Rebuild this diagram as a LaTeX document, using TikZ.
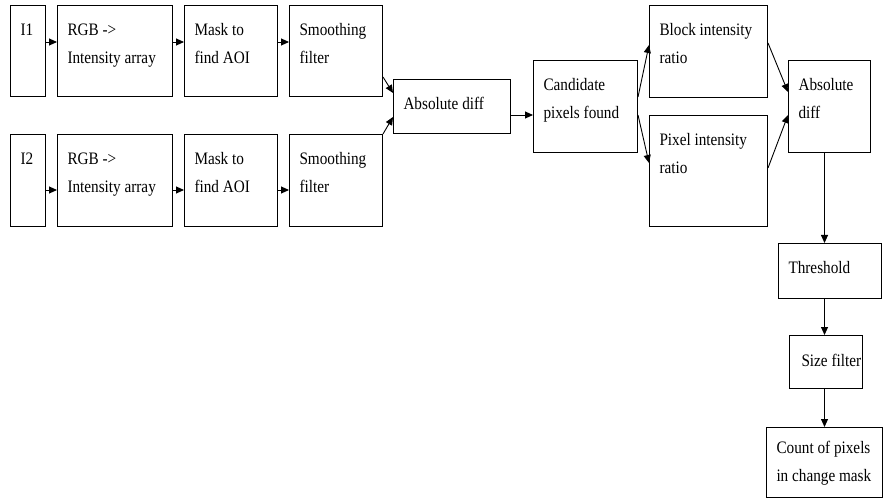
\documentclass[tikz,border=0pt]{standalone}
\usepackage{fontspec}
\setmainfont{Liberation Serif}[FakeStretch=0.87]
\usetikzlibrary{arrows.meta}
\newcommand\bx[7][30]{%
  \node[box] (#2) at (#3,#4) {\vbox to \dimexpr#6pt-#4pt\relax{%
    \hsize=\dimexpr#5pt-#3pt\relax \parindent=0pt \leftskip=10pt
    \rightskip=0pt plus 1fil \parfillskip=0pt plus 1fil
    \baselineskip=28pt \prevdepth=0pt \vskip\dimexpr#1pt-28pt\relax
    #7\par\vfil}};}
\begin{document}
\begin{tikzpicture}[x=1pt,y=-1pt,
  box/.style={draw, line width=1pt, inner sep=0pt, anchor=north west,
    font=\fontsize{17.5}{28}\selectfont},
  arr/.style={line width=0.9pt, -{Triangle[length=8pt,width=7pt]}}]
\useasboundingbox (0,0) rectangle (885,502);
\bx{i1}{10}{5}{45}{96}{I1}
\bx{rgb1}{57}{5}{172}{96}{RGB ->\\Intensity array}
\bx{msk1}{184}{5}{277}{96}{Mask to\\find AOI}
\bx{sm1}{289}{5}{382}{96}{Smoothing\\filter}
\bx{i2}{10}{134}{45}{226}{I2}
\bx{rgb2}{57}{134}{172}{226}{RGB ->\\Intensity array}
\bx{msk2}{184}{134}{277}{226}{Mask to\\find AOI}
\bx{sm2}{289}{134}{382}{226}{Smoothing\\filter}
\bx{ad}{393}{79}{510}{133}{Absolute diff}
\bx{cand}{533}{60}{637}{152}{Candidate\\pixels found}
\bx{blk}{649}{5}{767}{97}{Block intensity\\ratio}
\bx{pix}{649}{115}{767}{226}{Pixel intensity\\ratio}
\bx{ad2}{788}{60}{870}{152}{Absolute\\diff}
\bx{thr}{778}{243}{881}{298}{Threshold}
\bx[31]{sz}{789}{335}{862}{388}{\hspace{2pt}Size filter}
\bx[26]{cnt}{766}{427}{882}{497}{Count of pixels\\in change mask}
% row 1
\draw[arr] ([yshift=-37pt]i1.north east) -- ([yshift=-37pt]rgb1.north west);
\draw[arr] ([yshift=-37pt]rgb1.north east) -- ([yshift=-37pt]msk1.north west);
\draw[arr] ([yshift=-37pt]msk1.north east) -- ([yshift=-37pt]sm1.north west);
% row 2
\draw[arr] ([yshift=-56pt]i2.north east) -- ([yshift=-56pt]rgb2.north west);
\draw[arr] ([yshift=-56pt]rgb2.north east) -- ([yshift=-56pt]msk2.north west);
\draw[arr] ([yshift=-56pt]msk2.north east) -- ([yshift=-56pt]sm2.north west);
% merge
\draw[arr] ([yshift=-72pt]sm1.north east) -- ([yshift=-14pt]ad.north west);
\draw[arr] (sm2.north east) -- ([yshift=-38pt]ad.north west);
\draw[arr] ([yshift=-36pt]ad.north east) -- ([yshift=-55pt]cand.north west);
\draw[arr] ([yshift=-37pt]cand.north east) -- ([yshift=-40pt]blk.north west);
\draw[arr] ([yshift=-55pt]cand.north east) -- ([yshift=-48pt]pix.north west);
\draw[arr] ([yshift=-38pt]blk.north east) -- ([yshift=-32pt]ad2.north west);
\draw[arr] ([yshift=-53pt]pix.north east) -- ([yshift=-55pt]ad2.north west);
% vertical chain
\draw[arr] ([xshift=-5pt]ad2.south) -- ([xshift=-5pt]ad2.south |- thr.north);
\draw[arr] ([xshift=-5.5pt]thr.south) -- ([xshift=-5.5pt]thr.south |- sz.north);
\draw[arr] ([xshift=-5.5pt]thr.south |- sz.south) -- ([xshift=-5.5pt]thr.south |- cnt.north);
\end{tikzpicture}
\end{document}
